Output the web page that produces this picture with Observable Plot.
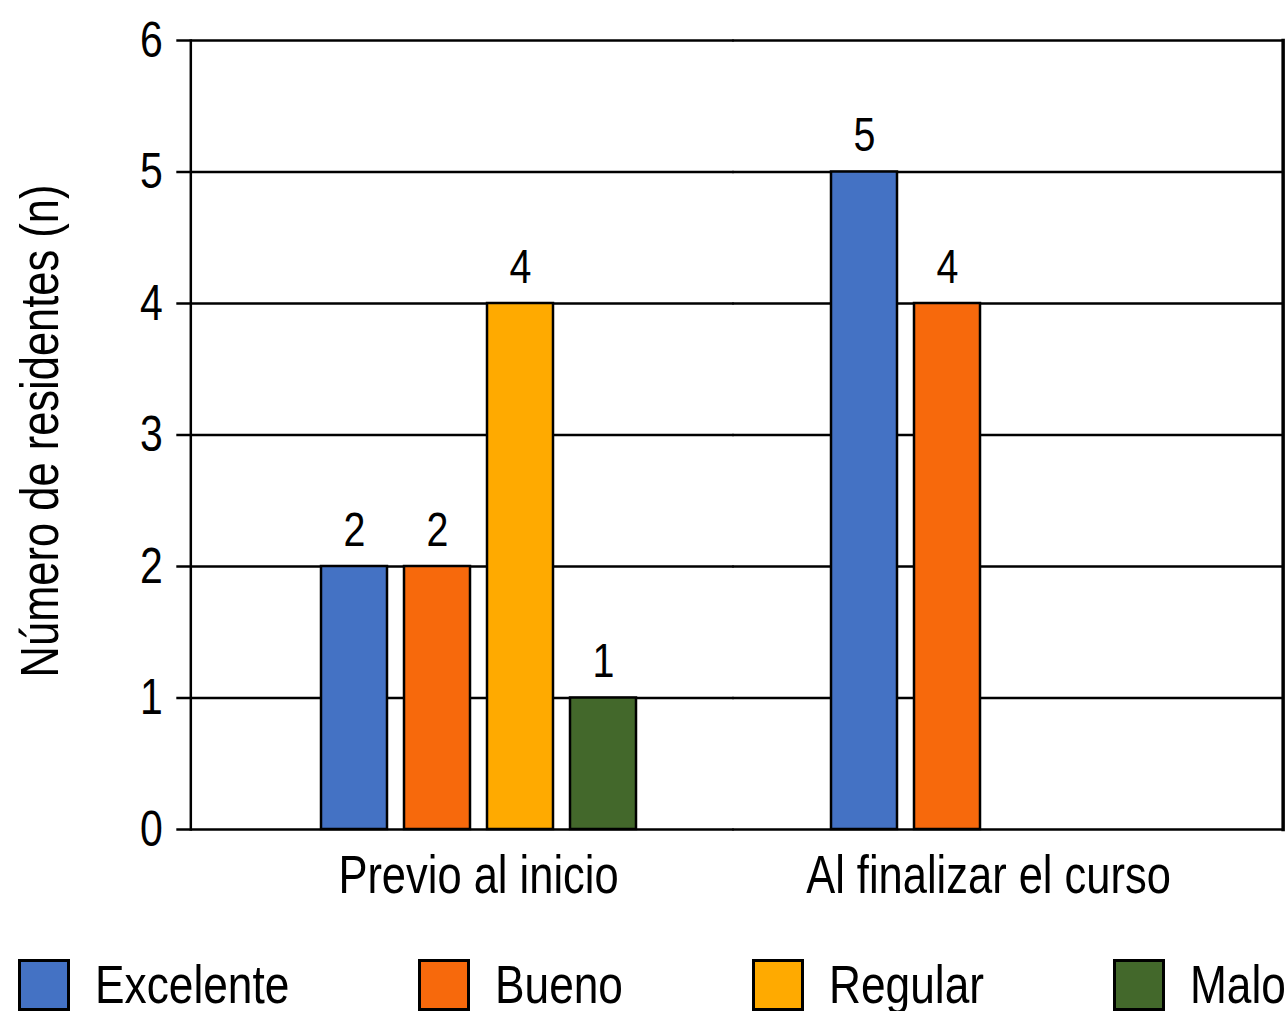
<!DOCTYPE html>
<html>
<head>
<meta charset="utf-8">
<script src="https://cdn.jsdelivr.net/npm/d3@7"></script>
<script src="https://cdn.jsdelivr.net/npm/@observablehq/plot@0.6"></script>
<style>
  html, body { margin: 0; padding: 0; background: #fff; }
  body { width: 1287px; font-family: "Liberation Sans", Arial, Helvetica, sans-serif; }
  #legend { display: flex; justify-content: space-between; align-items: center; padding: 0 1px 0 18px; margin-top: 29px; }
  .item { display: flex; align-items: center; font-size: 53px; line-height: 52px; color: #000; }
  .sw { box-sizing: border-box; width: 52px; height: 52px; border: 3px solid #000; margin-right: 25px; }
  .lb { display: inline-block; transform-origin: 0 50%; white-space: nowrap; }
</style>
</head>
<body>
<div id="chart"></div>
<div id="legend"></div>
<script>
const groups = ["Previo al inicio", "Al finalizar el curso"];
const ratings = ["Excelente", "Bueno", "Regular", "Malo"];
const colors = ["#4472C4", "#F7690C", "#FFAA00", "#43682B"];
const previo = [2, 2, 4, 1];
const final = [5, 4, 0, 0];
const yTicks = [0, 1, 2, 3, 4, 5, 6];
const yLabel = "Número de residentes (n)";

const data = [];
ratings.forEach((r, i) => data.push({group: groups[0], rating: r, n: previo[i]}));
ratings.forEach((r, i) => data.push({group: groups[1], rating: r, n: final[i]}));
const shown = data.filter(d => d.n > 0);

const font = "'Liberation Sans', Arial, Helvetica, sans-serif";
const K = 0.82;   // horizontal condensing of the chart lettering
const KL = 0.835; // and of the legend lettering

const W = 1287, ML = 190, MR = 3;
const fxPI = 0.345, fxPO = 0.243, fxAlign = 0.486;
const span = W - ML - MR;
const fxStep = span / (groups.length - fxPI + 2 * fxPO);
const spare = span - fxStep * (groups.length - fxPI);
const outerL = spare * fxAlign;       // left facet edge -> frame left
const outerR = spare - outerL;        // right facet edge -> frame right
const halfGap = fxStep * fxPI / 2 + 0.5;

const gridData = groups.map(g => yTicks.map(v => ({group: g, v})));

const chart = Plot.plot({
  width: W,
  height: 930,
  marginTop: 40,
  marginLeft: ML,
  marginRight: MR,
  marginBottom: 101,
  style: {fontFamily: font, fontSize: "50px", color: "#000", background: "#fff"},
  fx: {domain: groups, paddingInner: fxPI, paddingOuter: fxPO, align: fxAlign},
  x: {domain: ratings, paddingInner: 0.21, paddingOuter: 0.105, axis: null},
  y: {domain: [0, 6]},
  color: {domain: ratings, range: colors},
  marks: [
    Plot.ruleY(gridData[0], {fx: "group", y: "v", stroke: "#000", strokeWidth: 2.5, insetLeft: -outerL, insetRight: -halfGap}),
    Plot.ruleY(gridData[1], {fx: "group", y: "v", stroke: "#000", strokeWidth: 2.5, insetLeft: -halfGap, insetRight: -outerR}),
    Plot.frame({anchor: "left", facetAnchor: "left", dx: -outerL, stroke: "#000", strokeWidth: 2.5}),
    Plot.frame({anchor: "right", facetAnchor: "right", dx: outerR, stroke: "#000", strokeWidth: 3.5}),
    Plot.axisY({ticks: yTicks, tickFormat: d => String(d), dx: -outerL, tickSize: 14, tickPadding: 14, strokeWidth: 2.5, fontSize: 50, label: null}),
    Plot.text([yLabel], {text: d => d, frameAnchor: "left", facetAnchor: "left", rotate: -90, lineAnchor: "top", textAnchor: "middle", dx: -(outerL + 170), dy: -4, fontSize: 53, fill: "#000"}),
    Plot.axisFx({anchor: "bottom", tickSize: 0, tickPadding: 26, fontSize: 53, label: null}),
    Plot.barY(shown, {fx: "group", x: "rating", y: "n", fill: "rating", stroke: "#000", strokeWidth: 2.5}),
    Plot.text(shown, {fx: "group", x: "rating", y: "n", text: d => String(d.n), dy: -36, fontSize: 48, fill: "#000"})
  ]
});
document.getElementById("chart").appendChild(chart);

chart.querySelectorAll("text").forEach(t => {
  const w = t.getComputedTextLength();
  if (w > 0) {
    t.setAttribute("textLength", (w * K).toFixed(1));
    t.setAttribute("lengthAdjust", "spacingAndGlyphs");
  }
});

const legend = document.getElementById("legend");
ratings.forEach((r, i) => {
  const it = document.createElement("div");
  it.className = "item";
  const sw = document.createElement("div");
  sw.className = "sw";
  sw.style.background = colors[i];
  const lb = document.createElement("span");
  lb.className = "lb";
  lb.textContent = r;
  it.appendChild(sw);
  it.appendChild(lb);
  legend.appendChild(it);
  const w = lb.getBoundingClientRect().width;
  lb.style.transform = `scaleX(${KL})`;
  lb.style.marginRight = `${-(1 - KL) * w}px`;
});
</script>
</body>
</html>
